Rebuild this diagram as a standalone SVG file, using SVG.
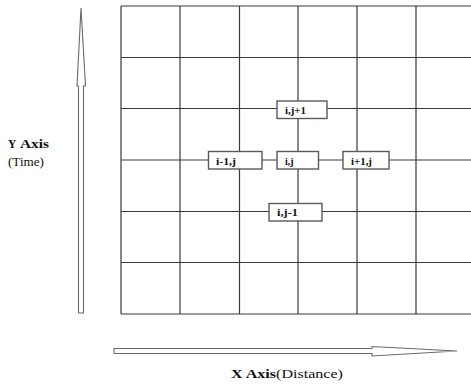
<svg xmlns="http://www.w3.org/2000/svg" width="471" height="385" viewBox="0 0 471 385">
  <style>
    .grid { stroke: #3a3a3a; stroke-width: 1.2; fill: none; }
    .arrow { fill: #ffffff; stroke: #6a6a6a; stroke-width: 1.1; stroke-linejoin: miter; }
    .node rect { fill: #ffffff; stroke: #5a5a5a; stroke-width: 1.4; }
    .node text { font-family: "Liberation Serif", "Times New Roman", serif; font-weight: bold; font-size: 10px; fill: #111; }
    .label { font-family: "Liberation Serif", "Times New Roman", serif; font-size: 11.5px; fill: #111; }
    .b { font-weight: bold; }
  </style>
  <rect width="471" height="385" fill="#ffffff"/>

  <!-- mesh -->
  <g id="connectors">
    <g class="grid">
      <line x1="121" y1="6" x2="471" y2="6"/>
      <line x1="121" y1="57.5" x2="471" y2="57.5"/>
      <line x1="121" y1="108.5" x2="471" y2="108.5"/>
      <line x1="121" y1="160" x2="471" y2="160"/>
      <line x1="121" y1="211.5" x2="471" y2="211.5"/>
      <line x1="121" y1="262.5" x2="471" y2="262.5"/>
      <line x1="121" y1="314" x2="471" y2="314"/>
      <line x1="121" y1="6" x2="121" y2="314"/>
      <line x1="180" y1="6" x2="180" y2="314"/>
      <line x1="239.5" y1="6" x2="239.5" y2="314"/>
      <line x1="298" y1="6" x2="298" y2="314"/>
      <line x1="357" y1="6" x2="357" y2="314"/>
      <line x1="416" y1="6" x2="416" y2="314"/>
    </g>
    <!-- axis arrows -->
    <polygon class="arrow" points="78.5,313 78.5,86 77,86 81,8 85.5,86 83.5,86 83.5,313"/>
    <polygon class="arrow" points="114,348.5 372,348.5 372,346.5 457,351 372,356 372,353.5 114,353.5"/>
  </g>

  <!-- stencil points -->
  <g id="node-top" class="node">
    <rect x="277" y="101" width="50" height="17.5"/>
    <text x="285" y="113.5" textLength="21" lengthAdjust="spacingAndGlyphs">i,j+1</text>
  </g>
  <g id="node-left" class="node">
    <rect x="208.5" y="151.5" width="53.5" height="17.5"/>
    <text x="216" y="164.5" textLength="20" lengthAdjust="spacingAndGlyphs">i-1,j</text>
  </g>
  <g id="node-center" class="node">
    <rect x="277" y="151.5" width="41.5" height="17.5"/>
    <text x="285" y="164.5">i,j</text>
  </g>
  <g id="node-right" class="node">
    <rect x="343" y="151.5" width="46" height="17.5"/>
    <text x="351" y="164.5" textLength="21" lengthAdjust="spacingAndGlyphs">i+1,j</text>
  </g>
  <g id="node-bottom" class="node">
    <rect x="269" y="203.5" width="53" height="17.5"/>
    <text x="277" y="216" textLength="21" lengthAdjust="spacingAndGlyphs">i,j-1</text>
  </g>

  <!-- axis captions -->
  <g id="y-axis-label">
    <text class="label b" x="8" y="148">Y</text>
    <text class="label b" x="20" y="148" textLength="29" lengthAdjust="spacingAndGlyphs">Axis</text>
    <text class="label" x="8" y="166" textLength="36" lengthAdjust="spacingAndGlyphs">(Time)</text>
  </g>
  <g id="x-axis-label">
    <text class="label" x="231" y="378" textLength="112" lengthAdjust="spacingAndGlyphs"><tspan class="b">X Axis</tspan>(Distance)</text>
  </g>
</svg>
